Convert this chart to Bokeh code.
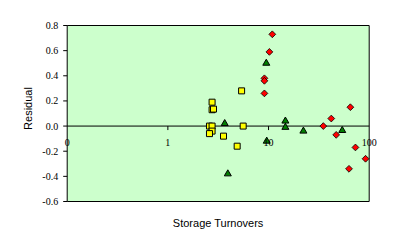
import math
from bokeh.plotting import figure
from bokeh.models import Range1d, Label, LabelSet, ColumnDataSource
from bokeh.embed import file_html
from bokeh.resources import INLINE

# ---- data ----
red_x = [10.9, 10.2, 9.1, 9.1, 9.1, 65, 42, 35, 47, 73, 92, 63]
red_y = [0.73, 0.59, 0.38, 0.36, 0.26, 0.15, 0.06, 0.0, -0.07, -0.17, -0.26, -0.34]

green_x = [9.5, 3.67, 3.94, 9.6, 14.7, 14.7, 22.2, 54]
green_y = [0.50, 0.02, -0.38, -0.12, 0.04, -0.01, -0.04, -0.035]

yellow_x = [5.4, 2.75, 2.75, 2.84, 2.59, 2.75, 2.75, 2.59, 5.6, 3.57, 4.88]
yellow_y = [0.28, 0.19, 0.13, 0.135, 0.0, 0.0, -0.04, -0.06, 0.0, -0.08, -0.16]

x_min, x_max = 0.1, 100
y_min, y_max = -0.6, 0.8
x_ticks = [0.1, 1, 10, 100]
x_tick_labels = ["0", "1", "10", "100"]
y_ticks = [-0.6, -0.4, -0.2, 0.0, 0.2, 0.4, 0.6, 0.8]
y_tick_labels = ["-0.6", "-0.4", "-0.2", "0.0", "0.2", "0.4", "0.6", "0.8"]

x_title = "Storage Turnovers"
y_title = "Residual"

FONT = "Liberation Sans"

# ---- layout (pixels) ----
W, H = 394, 248
PA_L, PA_R, PA_T, PA_B = 66.7, 368.7, 25.0, 201.0   # plot-area box on the canvas
ppd = (PA_R - PA_L) / (math.log10(x_max) - math.log10(x_min))
ppu = (PA_B - PA_T) / (y_max - y_min)
xr = Range1d(10 ** (math.log10(x_min) - PA_L / ppd), 10 ** (math.log10(x_max) + (W - PA_R) / ppd))
yr = Range1d(y_min - (H - PA_B) / ppu, y_max + PA_T / ppu)

p = figure(width=W, height=H, x_axis_type="log", x_range=xr, y_range=yr,
           output_backend="svg", toolbar_location=None,
           min_border=0, min_border_left=0, min_border_right=0,
           min_border_top=0, min_border_bottom=0)
p.xaxis.visible = False
p.yaxis.visible = False
p.grid.visible = False
p.outline_line_color = None
p.background_fill_color = "white"
p.border_fill_color = "white"

# plot area
p.quad(left=[x_min], right=[x_max], bottom=[y_min], top=[y_max],
       fill_color="#CCFFCC", line_color="black", line_width=1)

# zero line acting as the x axis, with ticks below it
p.segment(x0=[x_min], x1=[x_max], y0=[0], y1=[0], line_color="black", line_width=1)
p.ray(x=x_ticks[1:-1], y=[0] * (len(x_ticks) - 2), length=4, length_units="screen",
      angle=-math.pi / 2, line_color="black", line_width=1)
x_src = ColumnDataSource(dict(x=x_ticks, y=[0] * len(x_ticks), t=x_tick_labels))
p.add_layout(LabelSet(x="x", y="y", text="t", source=x_src, y_offset=-16,
                      text_align="center", text_baseline="middle",
                      text_font=FONT, text_font_size="10px", text_color="black"))

# y axis ticks and labels at the left edge of the plot area
p.ray(x=[x_min] * len(y_ticks), y=y_ticks, length=4, length_units="screen",
      angle=math.pi, line_color="black", line_width=1)
y_src = ColumnDataSource(dict(x=[x_min] * len(y_ticks), y=y_ticks, t=y_tick_labels))
p.add_layout(LabelSet(x="x", y="y", text="t", source=y_src, x_offset=-9,
                      text_align="right", text_baseline="middle",
                      text_font=FONT, text_font_size="10px", text_color="black"))

# series
p.scatter(yellow_x, yellow_y, marker="square", size=6, fill_color="#FFFF00",
          line_color="black", line_width=1)
p.scatter(green_x, green_y, marker="triangle", size=7, fill_color="#008000",
          line_color="black", line_width=1)
p.scatter(red_x, red_y, marker="square", angle=math.pi / 4, size=4.8, fill_color="#FF0000",
          line_color="black", line_width=0.8)

# axis titles
p.add_layout(Label(x=math.sqrt(x_min * x_max), y=y_min, y_offset=-21, text=x_title,
                   text_align="center", text_baseline="middle",
                   text_font=FONT, text_font_size="11px", text_color="black"))
p.add_layout(Label(x=x_min, y=(y_min + y_max) / 2, x_offset=-39.5, y_offset=5,
                   text=y_title, angle=math.pi / 2,
                   text_align="center", text_baseline="middle",
                   text_font=FONT, text_font_size="11px", text_color="black"))

open("out.html", "w").write(file_html(p, INLINE))
